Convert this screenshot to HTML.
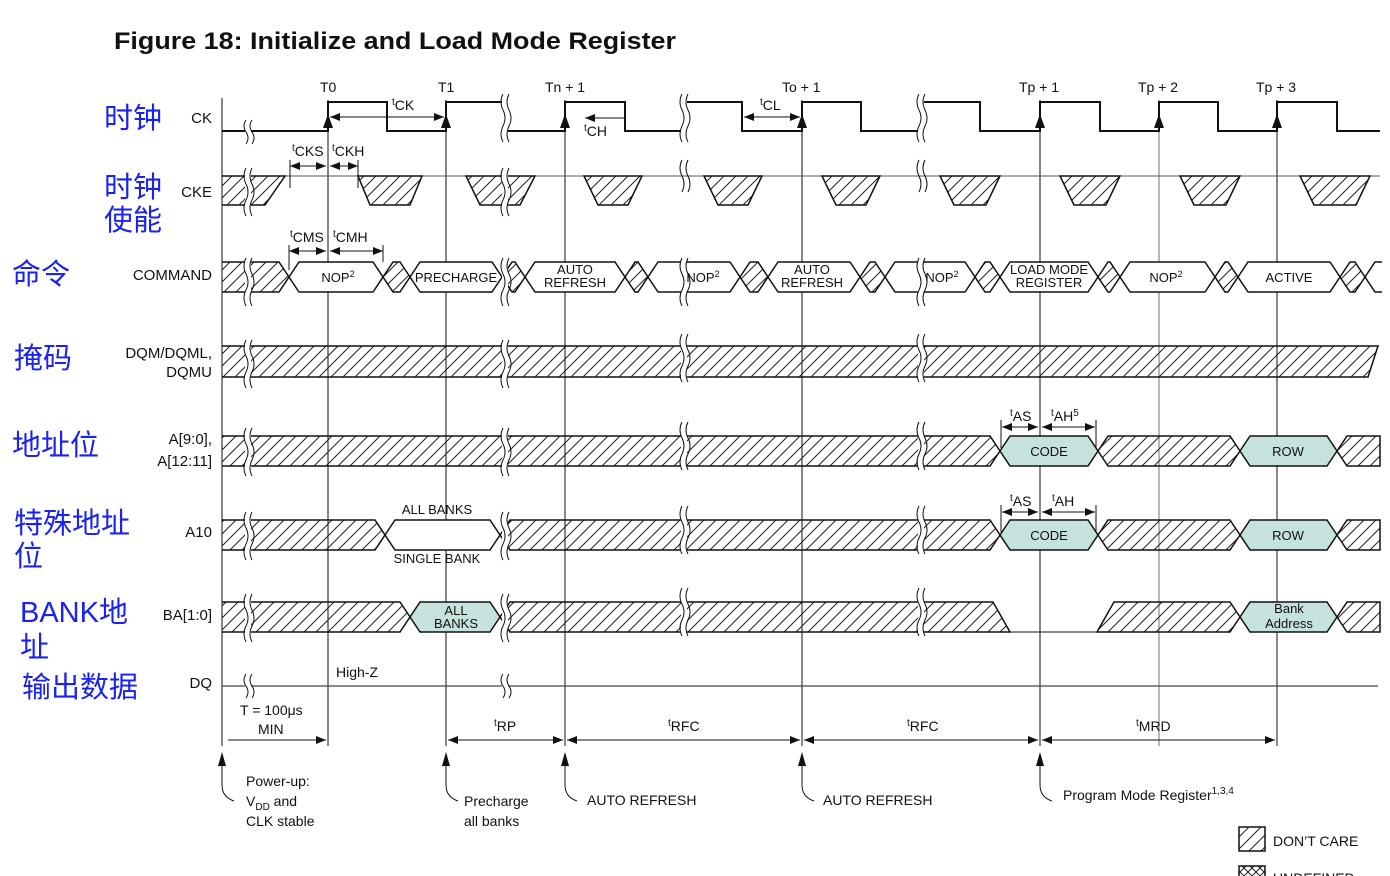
<!DOCTYPE html>
<html><head><meta charset="utf-8"><style>
html,body{margin:0;padding:0;background:#fff;width:1390px;height:876px;overflow:hidden}
svg text{font-family:"Liberation Sans","Noto Sans CJK SC",sans-serif;fill:#111}
.s{font-size:14px}
.zh{font-size:29px;fill:#1a22ee;font-family:"Noto Sans CJK SC","WenQuanYi Zen Hei",sans-serif}
.sig{font-size:15px;text-anchor:end}
.c{text-anchor:middle;font-size:13px}
</style></head><body>
<svg width="1390" height="876" viewBox="0 0 1390 876" xmlns="http://www.w3.org/2000/svg">
<defs>
<pattern id="h" patternUnits="userSpaceOnUse" width="12" height="12">
<path d="M-1,13 L13,-1 M-3,3 L3,-3 M9,15 L15,9" stroke="#222" stroke-width="1"/>
</pattern>
<pattern id="x" patternUnits="userSpaceOnUse" width="8" height="8">
<path d="M0,8 L8,0 M0,0 L8,8" stroke="#222" stroke-width="1"/>
</pattern>
<marker id="a" markerWidth="10" markerHeight="8" refX="10" refY="4" orient="auto" markerUnits="userSpaceOnUse"><path d="M0,0 L10,4 L0,8z" fill="#111"/></marker>
<marker id="b" markerWidth="10" markerHeight="8" refX="0" refY="4" orient="auto" markerUnits="userSpaceOnUse"><path d="M10,0 L0,4 L10,8z" fill="#111"/></marker>
</defs>

<text x="114" y="49" style="font-size:24px;font-weight:bold" textLength="562" lengthAdjust="spacingAndGlyphs">Figure 18: Initialize and Load Mode Register</text>

<!-- Chinese labels -->
<text class="zh" x="104" y="128">时钟</text>
<text class="zh" x="104" y="197">时钟</text>
<text class="zh" x="104" y="230">使能</text>
<text class="zh" x="12" y="284">命令</text>
<text class="zh" x="14" y="368">掩码</text>
<text class="zh" x="12" y="455">地址位</text>
<text class="zh" x="14" y="533">特殊地址</text>
<text class="zh" x="14" y="566">位</text>
<text class="zh" x="20" y="622" style="font-family:'Liberation Sans','Noto Sans CJK SC',sans-serif">BANK地</text>
<text class="zh" x="20" y="657">址</text>
<text class="zh" x="22" y="697">输出数据</text>

<!-- signal names -->
<text class="sig" x="212" y="123">CK</text>
<text class="sig" x="212" y="197">CKE</text>
<text class="sig" x="212" y="280">COMMAND</text>
<text class="sig" x="212" y="358">DQM/DQML,</text>
<text class="sig" x="212" y="377">DQMU</text>
<text class="sig" x="212" y="444">A[9:0],</text>
<text class="sig" x="212" y="466">A[12:11]</text>
<text class="sig" x="212" y="537">A10</text>
<text class="sig" x="212" y="620">BA[1:0]</text>
<text class="sig" x="212" y="688">DQ</text>

<!-- guides -->
<g stroke="#111" stroke-width="1">
<line x1="222" y1="98" x2="222" y2="746"/>
<line x1="328" y1="100" x2="328" y2="746"/>
<line x1="446" y1="100" x2="446" y2="746"/>
<line x1="565" y1="100" x2="565" y2="746"/>
<line x1="802" y1="100" x2="802" y2="746"/>
<line x1="1040" y1="100" x2="1040" y2="746"/>
<line x1="1277" y1="100" x2="1277" y2="746"/>
<line x1="1159" y1="100" x2="1159" y2="746" stroke-width="0.6"/>
</g>
<g class="s">
<text x="320" y="92">T0</text><text x="438" y="92">T1</text><text x="545" y="92">Tn + 1</text>
<text x="782" y="92">To + 1</text><text x="1019" y="92">Tp + 1</text><text x="1138" y="92">Tp + 2</text><text x="1256" y="92">Tp + 3</text>
</g>

<!-- CK -->
<path d="M222,131 H328 V102 H387 V131 H446 V102 H507 V131 H565 V102 H625 V131 H684 V102 H742 V131 H802 V102 H861 V131 H921 V102 H980 V131 H1040 V102 H1100 V131 H1159 V102 H1218 V131 H1277 V102 H1337 V131 H1380" fill="none" stroke="#111" stroke-width="2"/>
<g fill="#111">
<path d="M323,128 L328,114 L333,128z"/><path d="M441,128 L446,114 L451,128z"/><path d="M560,128 L565,114 L570,128z"/>
<path d="M797,128 L802,114 L807,128z"/><path d="M1035,128 L1040,114 L1045,128z"/><path d="M1154,128 L1159,114 L1164,128z"/><path d="M1272,128 L1277,114 L1282,128z"/>
</g>
<g stroke="#111" stroke-width="1" fill="none">
<line x1="330" y1="117" x2="444" y2="117" marker-start="url(#b)" marker-end="url(#a)"/>
<line x1="585" y1="118" x2="624" y2="118" marker-start="url(#b)"/>
<line x1="744" y1="117" x2="800" y2="117" marker-start="url(#b)" marker-end="url(#a)"/>
</g>
<text class="s" x="392" y="110"><tspan font-size="10" dy="-5">t</tspan><tspan dy="5">CK</tspan></text>
<text class="s" x="584" y="136"><tspan font-size="10" dy="-5">t</tspan><tspan dy="5">CH</tspan></text>
<text class="s" x="760" y="110"><tspan font-size="10" dy="-5">t</tspan><tspan dy="5">CL</tspan></text>

<!-- CKE -->
<line x1="222" y1="176" x2="1380" y2="176" stroke="#555" stroke-width="1"/>
<g fill="url(#h)" stroke="#111" stroke-width="1.5">
<path d="M222,176 H285 L265,205 H222"/>
<path d="M358,176 H422 L410,205 H370z"/>
<path d="M466,176 H535 L520,205 H480z"/>
<path d="M584,176 H642 L628,205 H598z"/>
<path d="M704,176 H762 L748,205 H718z"/>
<path d="M822,176 H880 L866,205 H836z"/>
<path d="M940,176 H1000 L986,205 H954z"/>
<path d="M1060,176 H1120 L1106,205 H1074z"/>
<path d="M1180,176 H1240 L1226,205 H1194z"/>
<path d="M1300,176 H1370 L1356,205 H1314z"/>
</g>
<g stroke="#111" stroke-width="1" fill="none">
<line x1="290" y1="166" x2="326" y2="166" marker-start="url(#b)" marker-end="url(#a)"/>
<line x1="330" y1="166" x2="358" y2="166" marker-start="url(#b)" marker-end="url(#a)"/>
<line x1="290" y1="160" x2="290" y2="188"/><line x1="358" y1="160" x2="358" y2="188"/>
<line x1="289" y1="251" x2="326" y2="251" marker-start="url(#b)" marker-end="url(#a)"/>
<line x1="330" y1="251" x2="383" y2="251" marker-start="url(#b)" marker-end="url(#a)"/>
<line x1="289" y1="245" x2="289" y2="270"/><line x1="383" y1="245" x2="383" y2="262"/>
</g>
<text class="s" x="292" y="156"><tspan font-size="10" dy="-5">t</tspan><tspan dy="5">CKS</tspan></text>
<text class="s" x="332" y="156"><tspan font-size="10" dy="-5">t</tspan><tspan dy="5">CKH</tspan></text>
<text class="s" x="290" y="242"><tspan font-size="10" dy="-5">t</tspan><tspan dy="5">CMS</tspan></text>
<text class="s" x="333" y="242"><tspan font-size="10" dy="-5">t</tspan><tspan dy="5">CMH</tspan></text>

<!-- COMMAND y 262-292 -->
<g stroke="#111" stroke-width="1.5">
<path d="M222,262 H279 L289,277 L279,292 H222" fill="url(#h)"/>
<path d="M289,277 L299,262 H373 L383,277 L373,292 H299z" fill="#fff"/>
<path d="M383,277 L393,262 H400 L410,277 L400,292 H393z" fill="url(#h)"/>
<path d="M410,277 L420,262 H492 L502,277 L492,292 H420z" fill="#fff"/>
<path d="M502,277 L512,262 H515 L525,277 L515,292 H512z" fill="url(#h)"/>
<path d="M525,277 L535,262 H615 L625,277 L615,292 H535z" fill="#fff"/>
<path d="M625,277 L635,262 H638 L648,277 L638,292 H635z" fill="url(#h)"/>
<path d="M648,277 L658,262 H730 L740,277 L730,292 H658z" fill="#fff"/>
<path d="M740,277 L750,262 H758 L768,277 L758,292 H750z" fill="url(#h)"/>
<path d="M768,277 L778,262 H850 L860,277 L850,292 H778z" fill="#fff"/>
<path d="M860,277 L870,262 H875 L885,277 L875,292 H870z" fill="url(#h)"/>
<path d="M885,277 L895,262 H965 L975,277 L965,292 H895z" fill="#fff"/>
<path d="M975,277 L985,262 H990 L1000,277 L990,292 H985z" fill="url(#h)"/>
<path d="M1000,277 L1010,262 H1088 L1098,277 L1088,292 H1010z" fill="#fff"/>
<path d="M1098,277 L1108,262 H1110 L1120,277 L1110,292 H1108z" fill="url(#h)"/>
<path d="M1120,277 L1130,262 H1205 L1215,277 L1205,292 H1130z" fill="#fff"/>
<path d="M1215,277 L1225,262 H1228 L1238,277 L1228,292 H1225z" fill="url(#h)"/>
<path d="M1238,277 L1248,262 H1330 L1340,277 L1330,292 H1248z" fill="#fff"/>
<path d="M1340,277 L1350,262 H1355 L1365,277 L1355,292 H1350z" fill="url(#h)"/>
<path d="M1365,277 L1375,262 H1382 M1365,277 L1375,292 H1382" fill="none"/>
</g>
<text class="c" x="338" y="282">NOP<tspan font-size="9" dy="-5">2</tspan></text>
<text class="c" x="456" y="282">PRECHARGE</text>
<text class="c" x="575" y="274">AUTO</text><text class="c" x="575" y="287">REFRESH</text>
<text class="c" x="703" y="282">NOP<tspan font-size="9" dy="-5">2</tspan></text>
<text class="c" x="812" y="274">AUTO</text><text class="c" x="812" y="287">REFRESH</text>
<text class="c" x="942" y="282">NOP<tspan font-size="9" dy="-5">2</tspan></text>
<text class="c" x="1049" y="274">LOAD MODE</text><text class="c" x="1049" y="287">REGISTER</text>
<text class="c" x="1166" y="282">NOP<tspan font-size="9" dy="-5">2</tspan></text>
<text class="c" x="1289" y="282">ACTIVE</text>

<!-- DQM -->
<path d="M222,346 H1378 L1368,377 H222" fill="url(#h)" stroke="#111" stroke-width="1.5"/>

<!-- A[9:0] y 436-466 -->
<g stroke="#111" stroke-width="1.5">
<path d="M222,436 H990 L1000,451 L990,466 H222" fill="url(#h)"/>
<path d="M1000,451 L1010,436 H1088 L1098,451 L1088,466 H1010z" fill="#c6e2dc"/>
<path d="M1098,451 L1108,436 H1230 L1240,451 L1230,466 H1108z" fill="url(#h)"/>
<path d="M1240,451 L1250,436 H1327 L1337,451 L1327,466 H1250z" fill="#c6e2dc"/>
<path d="M1337,451 L1347,436 H1380 V466 H1347z" fill="url(#h)"/>
</g>
<text class="c" x="1049" y="456">CODE</text><text class="c" x="1288" y="456">ROW</text>
<g stroke="#111" stroke-width="1" fill="none">
<line x1="1002" y1="427" x2="1038" y2="427" marker-start="url(#b)" marker-end="url(#a)"/>
<line x1="1042" y1="427" x2="1095" y2="427" marker-start="url(#b)" marker-end="url(#a)"/>
<line x1="1001" y1="420" x2="1001" y2="448"/><line x1="1096" y1="420" x2="1096" y2="448"/>
<line x1="1002" y1="512" x2="1038" y2="512" marker-start="url(#b)" marker-end="url(#a)"/>
<line x1="1042" y1="512" x2="1095" y2="512" marker-start="url(#b)" marker-end="url(#a)"/>
<line x1="1001" y1="505" x2="1001" y2="532"/><line x1="1096" y1="505" x2="1096" y2="532"/>
</g>
<text class="s" x="1010" y="421"><tspan font-size="10" dy="-5">t</tspan><tspan dy="5">AS</tspan></text>
<text class="s" x="1051" y="421"><tspan font-size="10" dy="-5">t</tspan><tspan dy="5">AH</tspan><tspan font-size="10" dy="-5">5</tspan></text>
<text class="s" x="1010" y="506"><tspan font-size="10" dy="-5">t</tspan><tspan dy="5">AS</tspan></text>
<text class="s" x="1052" y="506"><tspan font-size="10" dy="-5">t</tspan><tspan dy="5">AH</tspan></text>

<!-- A10 y 520-550 -->
<g stroke="#111" stroke-width="1.5">
<path d="M222,520 H375 L385,535 L375,550 H222" fill="url(#h)"/>
<path d="M385,535 L395,520 H490 L500,535 L490,550 H395z" fill="#fff"/>
<path d="M500,535 L510,520 H990 L1000,535 L990,550 H510z" fill="url(#h)"/>
<path d="M1000,535 L1010,520 H1088 L1098,535 L1088,550 H1010z" fill="#c6e2dc"/>
<path d="M1098,535 L1108,520 H1230 L1240,535 L1230,550 H1108z" fill="url(#h)"/>
<path d="M1240,535 L1250,520 H1327 L1337,535 L1327,550 H1250z" fill="#c6e2dc"/>
<path d="M1337,535 L1347,520 H1380 V550 H1347z" fill="url(#h)"/>
</g>
<text class="c" x="437" y="514">ALL BANKS</text><text class="c" x="437" y="563">SINGLE BANK</text>
<text class="c" x="1049" y="540">CODE</text><text class="c" x="1288" y="540">ROW</text>

<!-- BA y 602-632 -->
<g stroke="#111" stroke-width="1.5">
<path d="M222,602 H400 L410,617 L400,632 H222" fill="url(#h)"/>
<path d="M410,617 L420,602 H490 L500,617 L490,632 H420z" fill="#c6e2dc"/>
<path d="M500,617 L510,602 H993 L1010,632 H510z" fill="url(#h)"/>
<line x1="1010" y1="632" x2="1097" y2="632" stroke-width="1"/>
<path d="M1097,632 L1114,602 H1230 L1240,617 L1230,632z" fill="url(#h)"/>
<path d="M1240,617 L1250,602 H1327 L1337,617 L1327,632 H1250z" fill="#c6e2dc"/>
<path d="M1337,617 L1347,602 H1380 V632 H1347z" fill="url(#h)"/>
</g>
<text class="c" x="456" y="615">ALL</text><text class="c" x="456" y="628">BANKS</text>
<text class="c" x="1289" y="613">Bank</text><text class="c" x="1289" y="628">Address</text>

<!-- DQ -->
<line x1="222" y1="686" x2="1378" y2="686" stroke="#444" stroke-width="1.2"/>
<text class="s" x="336" y="677">High-Z</text>

<!-- break gaps -->
<g fill="#fff">
<rect x="245" y="118" width="6" height="16"/><rect x="245" y="170" width="6" height="40"/><rect x="245" y="258" width="6" height="38"/>
<rect x="245" y="342" width="6" height="38"/><rect x="245" y="430" width="6" height="40"/><rect x="245" y="514" width="6" height="40"/>
<rect x="245" y="596" width="6" height="40"/><rect x="245" y="676" width="6" height="20"/>
<rect x="502" y="96" width="6" height="40"/><rect x="502" y="170" width="6" height="40"/><rect x="502" y="258" width="6" height="38"/>
<rect x="502" y="342" width="6" height="38"/><rect x="502" y="430" width="6" height="40"/><rect x="502" y="514" width="6" height="40"/>
<rect x="502" y="596" width="6" height="40"/><rect x="502" y="676" width="6" height="20"/>
<rect x="681" y="96" width="6" height="40"/><rect x="681" y="258" width="6" height="38"/>
<rect x="681" y="336" width="6" height="46"/><rect x="681" y="424" width="6" height="46"/><rect x="681" y="508" width="6" height="46"/>
<rect x="681" y="590" width="6" height="46"/>
<rect x="918" y="96" width="6" height="40"/><rect x="918" y="258" width="6" height="38"/>
<rect x="918" y="336" width="6" height="46"/><rect x="918" y="424" width="6" height="46"/><rect x="918" y="508" width="6" height="46"/>
<rect x="918" y="590" width="6" height="46"/>
</g>
<g fill="none" stroke="#111" stroke-width="1">
<path d="M246,120 q-4,6 0,12 q4,6 0,12 M252,120 q-4,6 0,12 q4,6 0,12"/>
<path d="M246,168 q-4,8 0,16 q4,8 0,16 q-4,8 0,16 M252,168 q-4,8 0,16 q4,8 0,16 q-4,8 0,16"/>
<path d="M246,258 q-4,8 0,16 q4,8 0,16 q-4,8 0,16 M252,258 q-4,8 0,16 q4,8 0,16 q-4,8 0,16"/>
<path d="M246,340 q-4,8 0,16 q4,8 0,16 q-4,8 0,16 M252,340 q-4,8 0,16 q4,8 0,16 q-4,8 0,16"/>
<path d="M246,428 q-4,8 0,16 q4,8 0,16 q-4,8 0,16 M252,428 q-4,8 0,16 q4,8 0,16 q-4,8 0,16"/>
<path d="M246,512 q-4,8 0,16 q4,8 0,16 q-4,8 0,16 M252,512 q-4,8 0,16 q4,8 0,16 q-4,8 0,16"/>
<path d="M246,594 q-4,8 0,16 q4,8 0,16 q-4,8 0,16 M252,594 q-4,8 0,16 q4,8 0,16 q-4,8 0,16"/>
<path d="M246,674 q-4,6 0,12 q4,6 0,12 M252,674 q-4,6 0,12 q4,6 0,12"/>
<path d="M503,94 q-4,8 0,16 q4,8 0,16 q-4,8 0,16 M509,94 q-4,8 0,16 q4,8 0,16 q-4,8 0,16"/>
<path d="M503,168 q-4,8 0,16 q4,8 0,16 q-4,8 0,16 M509,168 q-4,8 0,16 q4,8 0,16 q-4,8 0,16"/>
<path d="M503,258 q-4,8 0,16 q4,8 0,16 q-4,8 0,16 M509,258 q-4,8 0,16 q4,8 0,16 q-4,8 0,16"/>
<path d="M503,340 q-4,8 0,16 q4,8 0,16 q-4,8 0,16 M509,340 q-4,8 0,16 q4,8 0,16 q-4,8 0,16"/>
<path d="M503,428 q-4,8 0,16 q4,8 0,16 q-4,8 0,16 M509,428 q-4,8 0,16 q4,8 0,16 q-4,8 0,16"/>
<path d="M503,512 q-4,8 0,16 q4,8 0,16 q-4,8 0,16 M509,512 q-4,8 0,16 q4,8 0,16 q-4,8 0,16"/>
<path d="M503,594 q-4,8 0,16 q4,8 0,16 q-4,8 0,16 M509,594 q-4,8 0,16 q4,8 0,16 q-4,8 0,16"/>
<path d="M503,674 q-4,6 0,12 q4,6 0,12 M509,674 q-4,6 0,12 q4,6 0,12"/>
<path d="M682,94 q-4,8 0,16 q4,8 0,16 q-4,8 0,16 M688,94 q-4,8 0,16 q4,8 0,16 q-4,8 0,16"/>
<path d="M682,160 q-4,8 0,16 q4,8 0,16 M688,160 q-4,8 0,16 q4,8 0,16"/>
<path d="M682,258 q-4,8 0,16 q4,8 0,16 q-4,8 0,16 M688,258 q-4,8 0,16 q4,8 0,16 q-4,8 0,16"/>
<path d="M682,334 q-4,8 0,16 q4,8 0,16 q-4,8 0,16 M688,334 q-4,8 0,16 q4,8 0,16 q-4,8 0,16"/>
<path d="M682,422 q-4,8 0,16 q4,8 0,16 q-4,8 0,16 M688,422 q-4,8 0,16 q4,8 0,16 q-4,8 0,16"/>
<path d="M682,506 q-4,8 0,16 q4,8 0,16 q-4,8 0,16 M688,506 q-4,8 0,16 q4,8 0,16 q-4,8 0,16"/>
<path d="M682,588 q-4,8 0,16 q4,8 0,16 q-4,8 0,16 M688,588 q-4,8 0,16 q4,8 0,16 q-4,8 0,16"/>
<path d="M919,94 q-4,8 0,16 q4,8 0,16 q-4,8 0,16 M925,94 q-4,8 0,16 q4,8 0,16 q-4,8 0,16"/>
<path d="M919,160 q-4,8 0,16 q4,8 0,16 M925,160 q-4,8 0,16 q4,8 0,16"/>
<path d="M919,258 q-4,8 0,16 q4,8 0,16 q-4,8 0,16 M925,258 q-4,8 0,16 q4,8 0,16 q-4,8 0,16"/>
<path d="M919,334 q-4,8 0,16 q4,8 0,16 q-4,8 0,16 M925,334 q-4,8 0,16 q4,8 0,16 q-4,8 0,16"/>
<path d="M919,422 q-4,8 0,16 q4,8 0,16 q-4,8 0,16 M925,422 q-4,8 0,16 q4,8 0,16 q-4,8 0,16"/>
<path d="M919,506 q-4,8 0,16 q4,8 0,16 q-4,8 0,16 M925,506 q-4,8 0,16 q4,8 0,16 q-4,8 0,16"/>
<path d="M919,588 q-4,8 0,16 q4,8 0,16 q-4,8 0,16 M925,588 q-4,8 0,16 q4,8 0,16 q-4,8 0,16"/>
</g>

<!-- timing row -->
<g stroke="#111" stroke-width="1" fill="none">
<line x1="228" y1="740" x2="326" y2="740" marker-end="url(#a)"/>
<line x1="448" y1="740" x2="563" y2="740" marker-start="url(#b)" marker-end="url(#a)"/>
<line x1="567" y1="740" x2="800" y2="740" marker-start="url(#b)" marker-end="url(#a)"/>
<line x1="804" y1="740" x2="1038" y2="740" marker-start="url(#b)" marker-end="url(#a)"/>
<line x1="1042" y1="740" x2="1275" y2="740" marker-start="url(#b)" marker-end="url(#a)"/>
</g>
<text class="s" x="240" y="715">T = 100μs</text><text class="s" x="258" y="734">MIN</text>
<text class="s" x="494" y="731"><tspan font-size="10" dy="-5">t</tspan><tspan dy="5">RP</tspan></text>
<text class="s" x="668" y="731"><tspan font-size="10" dy="-5">t</tspan><tspan dy="5">RFC</tspan></text>
<text class="s" x="907" y="731"><tspan font-size="10" dy="-5">t</tspan><tspan dy="5">RFC</tspan></text>
<text class="s" x="1136" y="731"><tspan font-size="10" dy="-5">t</tspan><tspan dy="5">MRD</tspan></text>

<!-- bottom annotations -->
<g stroke="#111" stroke-width="1" fill="none">
<path d="M222,762 V785 q0,12 12,16"/>
<path d="M446,762 V785 q0,12 12,16"/>
<path d="M565,762 V785 q0,12 12,16"/>
<path d="M802,762 V785 q0,12 12,16"/>
<path d="M1040,762 V785 q0,12 12,16"/>
</g>
<g fill="#111">
<path d="M218,766 L222,752 L226,766z"/><path d="M442,766 L446,752 L450,766z"/><path d="M561,766 L565,752 L569,766z"/>
<path d="M798,766 L802,752 L806,766z"/><path d="M1036,766 L1040,752 L1044,766z"/>
</g>
<text class="s" x="246" y="786">Power-up:</text>
<text class="s" x="246" y="806">V<tspan font-size="10" dy="4">DD</tspan><tspan dy="-4"> and</tspan></text>
<text class="s" x="246" y="826">CLK stable</text>
<text class="s" x="464" y="806">Precharge</text><text class="s" x="464" y="826">all banks</text>
<text class="s" x="587" y="805">AUTO REFRESH</text>
<text class="s" x="823" y="805">AUTO REFRESH</text>
<text class="s" x="1063" y="800">Program Mode Register<tspan font-size="10" dy="-6">1,3,4</tspan></text>

<!-- legend -->
<rect x="1239" y="827" width="26" height="24" fill="url(#h)" stroke="#111" stroke-width="1.5"/>
<text class="s" x="1273" y="846">DON’T CARE</text>
<rect x="1239" y="866" width="26" height="24" fill="url(#x)" stroke="#111" stroke-width="1.5"/>
<text class="s" x="1273" y="883">UNDEFINED</text>
</svg>
</body></html>
